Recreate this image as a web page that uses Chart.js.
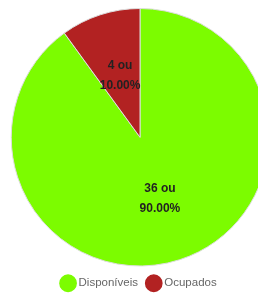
<!DOCTYPE html>
<html><head><meta charset="utf-8">
<script src="https://cdn.jsdelivr.net/npm/chart.js@4/dist/chart.umd.min.js"></script>
<style>html,body{margin:0;padding:0;overflow:hidden;background:#fff;width:258px;height:293px}</style>
</head><body>
<canvas id="c" width="280" height="293" style="width:280px;height:293px;display:block"></canvas>
<script>
const categories = ['Disponíveis', 'Ocupados'];
const counts = [36, 4];
const percents = ['90.00%', '10.00%'];
const colors = ['#7CFC00', '#B22222'];

const labelPlugin = {
  id: 'sliceLabels',
  afterDatasetsDraw(chart) {
    const ctx = chart.ctx;
    const meta = chart.getDatasetMeta(0);
    ctx.save();
    ctx.font = 'bold 12px Arial, "Liberation Sans", sans-serif';
    ctx.fillStyle = '#222';
    ctx.textAlign = 'center';
    ctx.textBaseline = 'middle';
    meta.data.forEach((arc, i) => {
      const p = arc.tooltipPosition();
      ctx.fillText(counts[i] + ' ou', p.x, p.y - 10);
      ctx.fillText(percents[i], p.x, p.y + 10);
    });
    ctx.restore();
  }
};

new Chart(document.getElementById('c'), {
  type: 'pie',
  data: {
    labels: categories,
    datasets: [{ data: counts, backgroundColor: colors, borderColor: '#ddd', borderWidth: 1 }]
  },
  options: {
    responsive: false,
    animation: false,
    layout: { padding: { top: 8, bottom: -6 } },
    plugins: {
      tooltip: { enabled: false },
      legend: {
        position: 'bottom',
        labels: {
          usePointStyle: true,
          pointStyle: 'circle',
          boxWidth: 9.5, boxHeight: 11.5,
          padding: 11,
          color: '#666',
          font: { size: 11.5, family: 'Arial, "Liberation Sans", sans-serif' },
          generateLabels(chart) {
            const items = Chart.overrides.pie.plugins.legend.labels.generateLabels(chart);
            return items.map((it, i) => Object.assign(it, {
              strokeStyle: colors[i], lineWidth: 1.5, fillStyle: colors[i]
            }));
          }
        }
      }
    }
  },
  plugins: [labelPlugin]
});
</script>
</body></html>
